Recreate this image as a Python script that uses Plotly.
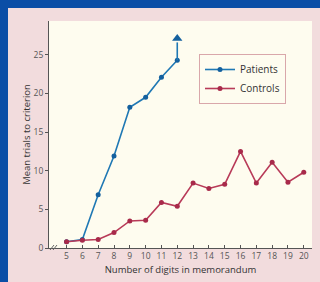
import plotly.graph_objects as go

digits_patients = [5, 6, 7, 8, 9, 10, 11, 12]
patients = [0.8, 1.1, 6.9, 11.9, 18.2, 19.5, 22.1, 24.3]
digits_controls = list(range(5, 21))
controls = [0.8, 1.0, 1.1, 2.0, 3.5, 3.6, 5.9, 5.4, 8.4, 7.7, 8.25, 12.5, 8.4, 11.1, 8.5, 9.8]
arrow_x = [12, 12]
arrow_y = [24.3, 26.6]
arrow_head_y = [27.1]
x_ticks = list(range(5, 21))
y_ticks = [0, 5, 10, 15, 20, 25]

BLUE = "#1f78b4"
BLUE_M = "#14609e"
RED = "#b83a58"
RED_M = "#a82a4a"
FRAME = "#0b4ea6"
PINK = "#f2dcdd"
CREAM = "#fefcef"

W, H = 320, 282
# plot area in page pixels
PX0, PX1, PY0, PY1 = 49, 312, 21, 248


def fx(x):
    return x / W


def fy(y):
    return 1 - y / H


fig = go.Figure()
fig.add_trace(go.Scatter(x=digits_patients, y=patients, mode="lines+markers", name="Patients",
                         line=dict(color=BLUE, width=1.6),
                         marker=dict(color=BLUE_M, size=5)))
fig.add_trace(go.Scatter(x=digits_controls, y=controls, mode="lines+markers", name="Controls",
                         line=dict(color=RED, width=1.6),
                         marker=dict(color=RED_M, size=5)))
fig.add_trace(go.Scatter(x=arrow_x, y=arrow_y, mode="lines", showlegend=False,
                         line=dict(color=BLUE, width=1.6), hoverinfo="skip"))
fig.add_trace(go.Scatter(x=arrow_x[:1], y=arrow_head_y, mode="markers", showlegend=False,
                         marker=dict(color=BLUE_M, size=9, symbol="triangle-up"), hoverinfo="skip"))

shapes = [
    # blue frame strips (left and top)
    dict(type="rect", xref="paper", yref="paper", x0=0, x1=fx(8), y0=0, y1=1,
         fillcolor=FRAME, line=dict(width=0), layer="below"),
    dict(type="rect", xref="paper", yref="paper", x0=0, x1=1, y0=fy(8), y1=1,
         fillcolor=FRAME, line=dict(width=0), layer="below"),
    # axis break marks
    dict(type="line", xref="paper", yref="paper", x0=fx(50), x1=fx(54), y0=fy(250), y1=fy(245),
         line=dict(color="#666", width=1)),
    dict(type="line", xref="paper", yref="paper", x0=fx(53), x1=fx(57), y0=fy(250), y1=fy(245),
         line=dict(color="#666", width=1)),
]

axis_font = dict(family="Open Sans, Arial, sans-serif", size=8.5, color="#555")
title_font = dict(family="Open Sans, Arial, sans-serif", size=9.5, color="#333")
fig.update_layout(
    width=W, height=H,
    margin=dict(l=0, r=0, t=0, b=0, pad=0),
    paper_bgcolor=PINK,
    plot_bgcolor=CREAM,
    shapes=shapes,
    showlegend=True,
    legend=dict(x=fx(199), y=fy(54), xanchor="left", yanchor="top",
                bgcolor=CREAM, bordercolor="#d9a7aa", borderwidth=1,
                font=dict(family="Open Sans, Arial, sans-serif", size=10, color="#333"),
                itemwidth=30, tracegroupgap=0),
    xaxis=dict(domain=[fx(PX0), fx(PX1)], range=[3.89, 20.52], tickvals=x_ticks,
               ticks="inside", ticklen=3, automargin=False,
               tickcolor="#555", showline=True, linecolor="#555", linewidth=1,
               showgrid=False, zeroline=False, tickfont=axis_font,
               title=dict(text="Number of digits in memorandum", standoff=6, font=title_font)),
    yaxis=dict(domain=[fy(PY1), fy(PY0)], range=[0, 29.37], tickvals=y_ticks,
               ticks="outside", ticklen=3, automargin=False,
               tickcolor="#555", showline=True, linecolor="#555", linewidth=1,
               showgrid=False, zeroline=False, tickfont=axis_font,
               title=dict(text="Mean trials to criterion", standoff=1, font=title_font)),
)

fig.write_html(
    "out.html", config={"displayModeBar": False},
    post_script="document.body.style.margin='0';",
)
